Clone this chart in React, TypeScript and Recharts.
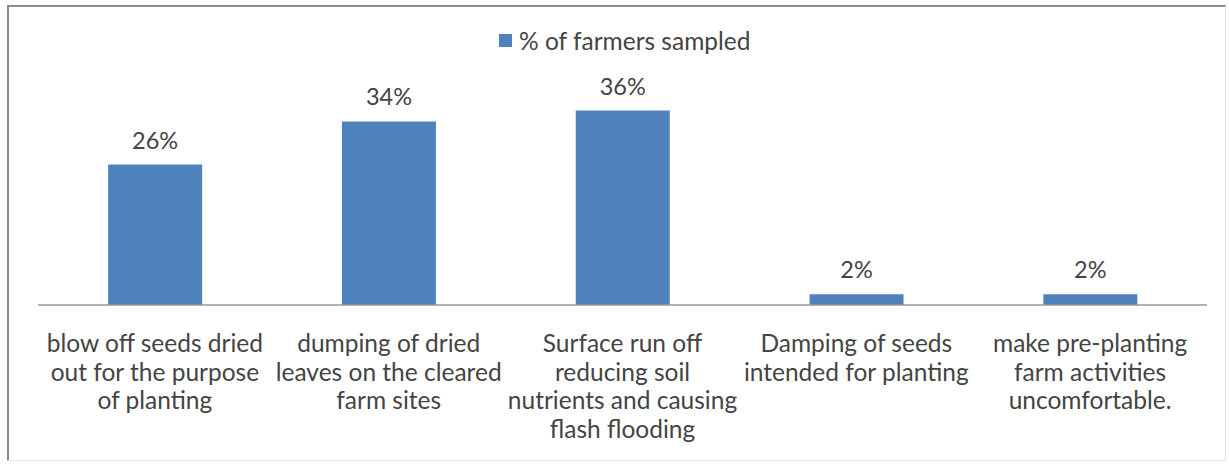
import React from "react";
import { BarChart, Bar, XAxis, YAxis, LabelList, Legend } from "recharts";

const categories = [
  "blow off seeds dried\nout for the purpose\nof planting",
  "dumping of dried\nleaves on the cleared\nfarm sites",
  "Surface run off\nreducing soil\nnutrients and causing\nflash flooding",
  "Damping of seeds\nintended for planting",
  "make pre-planting\nfarm activities\nuncomfortable.",
];
const percentValues = [26, 34, 36, 2, 2];
const seriesName = "% of farmers sampled";

const data = categories.map((c, i) => ({ category: c, value: percentValues[i] }));

const FONT = "Lato, 'Noto Sans', sans-serif";
const TEXT_COLOR = "#444444";
const BAR_COLOR = "#4F81BD";

const CategoryTick = (props: any) => {
  const { x, y, payload } = props;
  const lines = String(payload.value).split("\n");
  return (
    <text x={x} y={y} textAnchor="middle" fill={TEXT_COLOR} fontFamily={FONT} fontSize={24.5}>
      {lines.map((l, i) => (
        <tspan key={i} x={x} dy={i === 0 ? 47 : 28.5}>
          {l}
        </tspan>
      ))}
    </text>
  );
};

const LegendContent = () => (
  <div style={{ display: "flex", alignItems: "center", paddingLeft: 499, fontFamily: FONT, fontSize: 24.5, color: TEXT_COLOR }}>
    <span style={{ display: "inline-block", width: 13, height: 13, background: BAR_COLOR, marginRight: 7 }} />
    <span>{seriesName}</span>
  </div>
);

export default function App() {
  return (
    <div style={{ position: "absolute", left: 0, top: 0, width: 1229, height: 465, background: "#fff" }}>
      <div
        style={{
          position: "absolute",
          left: 7,
          top: 5,
          width: 1219,
          height: 456,
          borderTop: "2px solid #8c8c8c",
          borderLeft: "2px solid #8c8c8c",
          borderRight: "1px solid #e6e6e6",
          borderBottom: "1px solid #e6e6e6",
          boxSizing: "border-box",
        }}
      />
      <div style={{ position: "absolute", left: 0, top: 0 }}>
        <BarChart
          width={1229}
          height={465}
          data={data}
          margin={{ top: 89, right: 22, bottom: 0, left: 38 }}
          barCategoryGap="30%"
        >
          <XAxis
            dataKey="category"
            height={160}
            tickLine={false}
            tickSize={0}
            tickMargin={0}
            axisLine={{ stroke: "#999999", strokeWidth: 1.5 }}
            tick={<CategoryTick />}
            interval={0}
          />
          <YAxis hide domain={[0, 40]} />
          <Legend
            layout="horizontal"
            verticalAlign="middle"
            align="center"
            content={<LegendContent />}
            wrapperStyle={{ top: 26, left: 0, width: 1229 }}
          />
          <Bar dataKey="value" name={seriesName} fill={BAR_COLOR} isAnimationActive={false}>
            <LabelList
              dataKey="value"
              position="top"
              offset={16}
              formatter={(v: any) => `${v}%`}
              fill={TEXT_COLOR}
              fontFamily={FONT}
              fontSize={23.5}
            />
          </Bar>
        </BarChart>
      </div>
    </div>
  );
}
